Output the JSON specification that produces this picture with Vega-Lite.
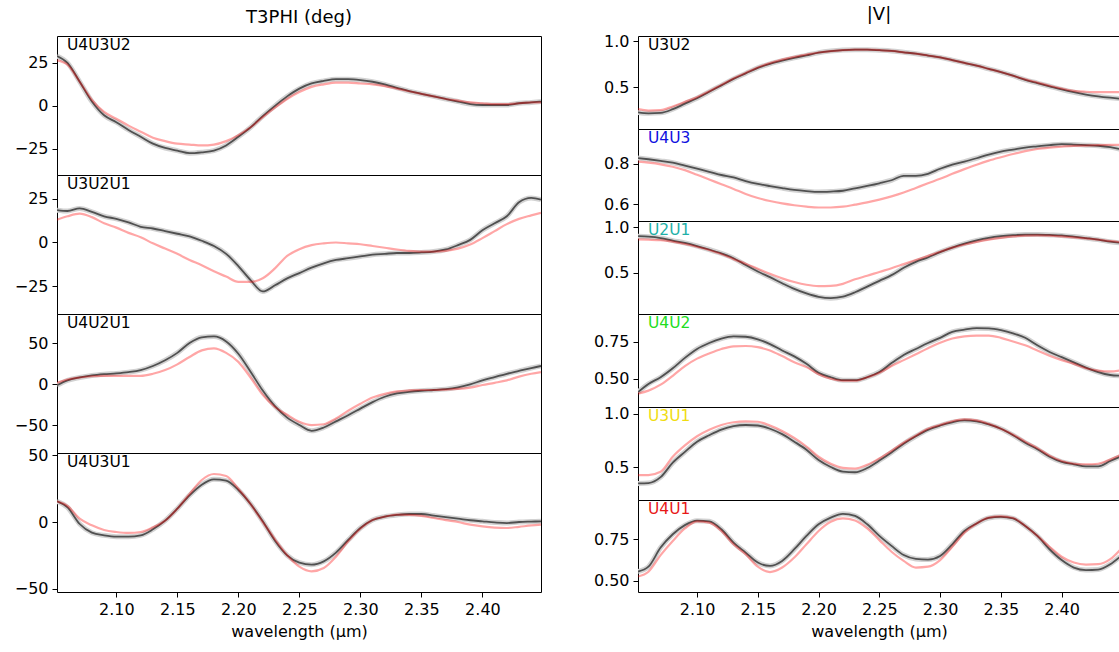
{
"$schema":"https://vega.github.io/schema/vega-lite/v6.json",
"background":"white",
"padding":{"left":13,"top":5,"right":0,"bottom":0},
"config":{
"font":"DejaVu Sans",
"view":{"stroke":"black","strokeWidth":1},
"concat":{"spacing":0},
"axis":{"domain":false,"grid":false,"tickColor":"black","tickSize":5,"tickWidth":1,"labelFont":"DejaVu Sans","labelFontSize":16,"labelColor":"black","labelPadding":4,"titleFont":"DejaVu Sans","titleFontSize":16,"titleFontWeight":"normal","titleColor":"black","titlePadding":6},
"title":{"font":"DejaVu Sans","fontSize":18,"fontWeight":"normal","color":"black"}
},
"datasets":{"obs":[
{"p":"U4U3U2","w":2.0514,"d":29,"m":26.5},{"p":"U4U3U2","w":2.06,"d":25,"m":24},{"p":"U4U3U2","w":2.07,"d":14,"m":14},{"p":"U4U3U2","w":2.08,"d":2.5,"m":3.5},{"p":"U4U3U2","w":2.09,"d":-5.5,"m":-3.5},{"p":"U4U3U2","w":2.1,"d":-9.5,"m":-7.5},{"p":"U4U3U2","w":2.11,"d":-14,"m":-11.5},{"p":"U4U3U2","w":2.12,"d":-18,"m":-15},{"p":"U4U3U2","w":2.13,"d":-22,"m":-18.5},{"p":"U4U3U2","w":2.14,"d":-24.5,"m":-20.5},{"p":"U4U3U2","w":2.15,"d":-26,"m":-22},{"p":"U4U3U2","w":2.16,"d":-27.5,"m":-22.5},{"p":"U4U3U2","w":2.17,"d":-27,"m":-23},{"p":"U4U3U2","w":2.18,"d":-26,"m":-22.5},{"p":"U4U3U2","w":2.19,"d":-23,"m":-20.5},{"p":"U4U3U2","w":2.2,"d":-18,"m":-17},{"p":"U4U3U2","w":2.21,"d":-12.5,"m":-12.5},{"p":"U4U3U2","w":2.22,"d":-6,"m":-6.5},{"p":"U4U3U2","w":2.23,"d":0,"m":-1},{"p":"U4U3U2","w":2.24,"d":5.5,"m":4},{"p":"U4U3U2","w":2.25,"d":10,"m":8},{"p":"U4U3U2","w":2.26,"d":13,"m":11},{"p":"U4U3U2","w":2.27,"d":14.5,"m":12.5},{"p":"U4U3U2","w":2.28,"d":15.5,"m":13.5},{"p":"U4U3U2","w":2.29,"d":15.5,"m":13.5},{"p":"U4U3U2","w":2.3,"d":15,"m":13},{"p":"U4U3U2","w":2.31,"d":14,"m":12.5},{"p":"U4U3U2","w":2.32,"d":12.5,"m":11.5},{"p":"U4U3U2","w":2.33,"d":10.5,"m":10},{"p":"U4U3U2","w":2.34,"d":8.5,"m":8.5},{"p":"U4U3U2","w":2.35,"d":7,"m":7},{"p":"U4U3U2","w":2.36,"d":5.5,"m":5.5},{"p":"U4U3U2","w":2.37,"d":4,"m":4},{"p":"U4U3U2","w":2.38,"d":2.5,"m":3},{"p":"U4U3U2","w":2.39,"d":1,"m":2},{"p":"U4U3U2","w":2.4,"d":0.5,"m":1.5},{"p":"U4U3U2","w":2.41,"d":0.5,"m":1},{"p":"U4U3U2","w":2.42,"d":0.5,"m":1},{"p":"U4U3U2","w":2.43,"d":1.5,"m":1.5},{"p":"U4U3U2","w":2.44,"d":2,"m":2},{"p":"U4U3U2","w":2.448,"d":2.5,"m":2},
{"p":"U3U2U1","w":2.0514,"d":18.5,"m":13},{"p":"U3U2U1","w":2.06,"d":18,"m":15},{"p":"U3U2U1","w":2.07,"d":19.5,"m":16.5},{"p":"U3U2U1","w":2.08,"d":17.5,"m":14.5},{"p":"U3U2U1","w":2.09,"d":15,"m":11},{"p":"U3U2U1","w":2.1,"d":13.5,"m":8.5},{"p":"U3U2U1","w":2.11,"d":11.5,"m":5.5},{"p":"U3U2U1","w":2.12,"d":9,"m":3},{"p":"U3U2U1","w":2.13,"d":8,"m":-0.5},{"p":"U3U2U1","w":2.14,"d":6.5,"m":-3.5},{"p":"U3U2U1","w":2.15,"d":5,"m":-6.5},{"p":"U3U2U1","w":2.16,"d":3.5,"m":-10},{"p":"U3U2U1","w":2.17,"d":1,"m":-13},{"p":"U3U2U1","w":2.18,"d":-2,"m":-16.5},{"p":"U3U2U1","w":2.19,"d":-6.5,"m":-19.5},{"p":"U3U2U1","w":2.2,"d":-13.5,"m":-22.5},{"p":"U3U2U1","w":2.21,"d":-21.5,"m":-22.5},{"p":"U3U2U1","w":2.22,"d":-28,"m":-20.5},{"p":"U3U2U1","w":2.23,"d":-24.5,"m":-14.8},{"p":"U3U2U1","w":2.24,"d":-20.5,"m":-7.7},{"p":"U3U2U1","w":2.25,"d":-17.5,"m":-3.8},{"p":"U3U2U1","w":2.26,"d":-14.4,"m":-1.5},{"p":"U3U2U1","w":2.27,"d":-11.9,"m":-0.5},{"p":"U3U2U1","w":2.28,"d":-10,"m":0},{"p":"U3U2U1","w":2.29,"d":-9,"m":-0.5},{"p":"U3U2U1","w":2.3,"d":-8,"m":-1},{"p":"U3U2U1","w":2.31,"d":-7,"m":-2},{"p":"U3U2U1","w":2.32,"d":-6.5,"m":-3},{"p":"U3U2U1","w":2.33,"d":-6,"m":-4},{"p":"U3U2U1","w":2.34,"d":-6,"m":-4.8},{"p":"U3U2U1","w":2.35,"d":-5.7,"m":-5.2},{"p":"U3U2U1","w":2.36,"d":-5.2,"m":-5.2},{"p":"U3U2U1","w":2.37,"d":-4,"m":-4.8},{"p":"U3U2U1","w":2.38,"d":-1.5,"m":-3.5},{"p":"U3U2U1","w":2.39,"d":1.5,"m":-1.2},{"p":"U3U2U1","w":2.4,"d":7,"m":2.5},{"p":"U3U2U1","w":2.41,"d":11,"m":6.5},{"p":"U3U2U1","w":2.42,"d":15,"m":10.5},{"p":"U3U2U1","w":2.43,"d":23,"m":13.5},{"p":"U3U2U1","w":2.44,"d":25.5,"m":15.5},{"p":"U3U2U1","w":2.448,"d":24.5,"m":17},
{"p":"U4U2U1","w":2.0514,"d":-1.5,"m":1.5},{"p":"U4U2U1","w":2.06,"d":4.5,"m":5.5},{"p":"U4U2U1","w":2.07,"d":8,"m":8},{"p":"U4U2U1","w":2.08,"d":10.5,"m":9.5},{"p":"U4U2U1","w":2.09,"d":12,"m":10},{"p":"U4U2U1","w":2.1,"d":13,"m":10},{"p":"U4U2U1","w":2.11,"d":14.5,"m":10},{"p":"U4U2U1","w":2.12,"d":17,"m":10},{"p":"U4U2U1","w":2.13,"d":22,"m":12.5},{"p":"U4U2U1","w":2.14,"d":29,"m":17},{"p":"U4U2U1","w":2.15,"d":38,"m":24},{"p":"U4U2U1","w":2.16,"d":50,"m":33},{"p":"U4U2U1","w":2.17,"d":57,"m":41},{"p":"U4U2U1","w":2.18,"d":58,"m":43.5},{"p":"U4U2U1","w":2.19,"d":52,"m":38},{"p":"U4U2U1","w":2.2,"d":37,"m":27},{"p":"U4U2U1","w":2.21,"d":15,"m":8},{"p":"U4U2U1","w":2.22,"d":-8,"m":-13},{"p":"U4U2U1","w":2.23,"d":-27,"m":-28},{"p":"U4U2U1","w":2.24,"d":-41,"m":-37.5},{"p":"U4U2U1","w":2.25,"d":-50,"m":-46},{"p":"U4U2U1","w":2.26,"d":-57,"m":-50},{"p":"U4U2U1","w":2.27,"d":-53,"m":-49},{"p":"U4U2U1","w":2.28,"d":-45.5,"m":-42},{"p":"U4U2U1","w":2.29,"d":-38,"m":-32.5},{"p":"U4U2U1","w":2.3,"d":-30,"m":-24},{"p":"U4U2U1","w":2.31,"d":-22,"m":-16.5},{"p":"U4U2U1","w":2.32,"d":-15.5,"m":-12},{"p":"U4U2U1","w":2.33,"d":-11.5,"m":-9},{"p":"U4U2U1","w":2.34,"d":-9.5,"m":-7.8},{"p":"U4U2U1","w":2.35,"d":-8.2,"m":-7.3},{"p":"U4U2U1","w":2.36,"d":-7.3,"m":-7.3},{"p":"U4U2U1","w":2.37,"d":-6.2,"m":-6.8},{"p":"U4U2U1","w":2.38,"d":-4,"m":-6},{"p":"U4U2U1","w":2.39,"d":-0.5,"m":-4.3},{"p":"U4U2U1","w":2.4,"d":4.5,"m":-1.2},{"p":"U4U2U1","w":2.41,"d":8.5,"m":1.5},{"p":"U4U2U1","w":2.42,"d":12.5,"m":4.5},{"p":"U4U2U1","w":2.43,"d":16,"m":9},{"p":"U4U2U1","w":2.44,"d":19.5,"m":12.5},{"p":"U4U2U1","w":2.448,"d":22,"m":14.5},
{"p":"U4U3U1","w":2.0514,"d":15.5,"m":15.5},{"p":"U4U3U1","w":2.06,"d":11,"m":12},{"p":"U4U3U1","w":2.07,"d":-1.5,"m":2.5},{"p":"U4U3U1","w":2.08,"d":-8,"m":-2.5},{"p":"U4U3U1","w":2.09,"d":-10,"m":-6},{"p":"U4U3U1","w":2.1,"d":-11,"m":-7.5},{"p":"U4U3U1","w":2.11,"d":-11,"m":-8.2},{"p":"U4U3U1","w":2.12,"d":-10,"m":-7.5},{"p":"U4U3U1","w":2.13,"d":-5.5,"m":-4},{"p":"U4U3U1","w":2.14,"d":1,"m":1},{"p":"U4U3U1","w":2.15,"d":10,"m":10},{"p":"U4U3U1","w":2.16,"d":20,"m":21},{"p":"U4U3U1","w":2.17,"d":28,"m":31.5},{"p":"U4U3U1","w":2.18,"d":32,"m":36},{"p":"U4U3U1","w":2.19,"d":31,"m":34.5},{"p":"U4U3U1","w":2.2,"d":24,"m":25},{"p":"U4U3U1","w":2.21,"d":13.5,"m":13.5},{"p":"U4U3U1","w":2.22,"d":0.5,"m":0},{"p":"U4U3U1","w":2.23,"d":-14,"m":-13},{"p":"U4U3U1","w":2.24,"d":-25,"m":-25},{"p":"U4U3U1","w":2.25,"d":-30.5,"m":-33.5},{"p":"U4U3U1","w":2.26,"d":-32,"m":-37},{"p":"U4U3U1","w":2.27,"d":-29.5,"m":-34.5},{"p":"U4U3U1","w":2.28,"d":-23,"m":-26},{"p":"U4U3U1","w":2.29,"d":-13.5,"m":-14.5},{"p":"U4U3U1","w":2.3,"d":-4.5,"m":-5},{"p":"U4U3U1","w":2.31,"d":1.5,"m":1.5},{"p":"U4U3U1","w":2.32,"d":4,"m":4},{"p":"U4U3U1","w":2.33,"d":5.3,"m":5.5},{"p":"U4U3U1","w":2.34,"d":6,"m":5.4},{"p":"U4U3U1","w":2.35,"d":6,"m":4.6},{"p":"U4U3U1","w":2.36,"d":4.8,"m":3},{"p":"U4U3U1","w":2.37,"d":3.6,"m":1.4},{"p":"U4U3U1","w":2.38,"d":2.5,"m":0},{"p":"U4U3U1","w":2.39,"d":1.3,"m":-2},{"p":"U4U3U1","w":2.4,"d":0.5,"m":-3.3},{"p":"U4U3U1","w":2.41,"d":-0.3,"m":-4.2},{"p":"U4U3U1","w":2.42,"d":-0.8,"m":-4.5},{"p":"U4U3U1","w":2.43,"d":0,"m":-3.6},{"p":"U4U3U1","w":2.44,"d":0.3,"m":-2.6},{"p":"U4U3U1","w":2.448,"d":0.5,"m":-2},
{"p":"U3U2","w":2.0514,"d":0.225,"m":0.26},{"p":"U3U2","w":2.06,"d":0.215,"m":0.245},{"p":"U3U2","w":2.07,"d":0.22,"m":0.25},{"p":"U3U2","w":2.08,"d":0.26,"m":0.29},{"p":"U3U2","w":2.09,"d":0.32,"m":0.34},{"p":"U3U2","w":2.1,"d":0.38,"m":0.39},{"p":"U3U2","w":2.11,"d":0.45,"m":0.455},{"p":"U3U2","w":2.12,"d":0.52,"m":0.525},{"p":"U3U2","w":2.13,"d":0.59,"m":0.595},{"p":"U3U2","w":2.14,"d":0.65,"m":0.655},{"p":"U3U2","w":2.15,"d":0.71,"m":0.715},{"p":"U3U2","w":2.16,"d":0.755,"m":0.762},{"p":"U3U2","w":2.17,"d":0.79,"m":0.8},{"p":"U3U2","w":2.18,"d":0.82,"m":0.83},{"p":"U3U2","w":2.19,"d":0.847,"m":0.855},{"p":"U3U2","w":2.2,"d":0.876,"m":0.878},{"p":"U3U2","w":2.21,"d":0.894,"m":0.894},{"p":"U3U2","w":2.22,"d":0.905,"m":0.905},{"p":"U3U2","w":2.23,"d":0.909,"m":0.91},{"p":"U3U2","w":2.24,"d":0.909,"m":0.91},{"p":"U3U2","w":2.25,"d":0.903,"m":0.905},{"p":"U3U2","w":2.26,"d":0.895,"m":0.895},{"p":"U3U2","w":2.27,"d":0.88,"m":0.88},{"p":"U3U2","w":2.28,"d":0.865,"m":0.865},{"p":"U3U2","w":2.29,"d":0.845,"m":0.845},{"p":"U3U2","w":2.3,"d":0.825,"m":0.825},{"p":"U3U2","w":2.31,"d":0.795,"m":0.795},{"p":"U3U2","w":2.32,"d":0.765,"m":0.765},{"p":"U3U2","w":2.33,"d":0.735,"m":0.735},{"p":"U3U2","w":2.34,"d":0.7,"m":0.7},{"p":"U3U2","w":2.35,"d":0.665,"m":0.665},{"p":"U3U2","w":2.36,"d":0.625,"m":0.625},{"p":"U3U2","w":2.37,"d":0.58,"m":0.585},{"p":"U3U2","w":2.38,"d":0.545,"m":0.55},{"p":"U3U2","w":2.39,"d":0.51,"m":0.515},{"p":"U3U2","w":2.4,"d":0.475,"m":0.485},{"p":"U3U2","w":2.41,"d":0.445,"m":0.46},{"p":"U3U2","w":2.42,"d":0.42,"m":0.45},{"p":"U3U2","w":2.43,"d":0.4,"m":0.445},{"p":"U3U2","w":2.44,"d":0.385,"m":0.445},{"p":"U3U2","w":2.448,"d":0.375,"m":0.445},
{"p":"U4U3","w":2.0514,"d":0.828,"m":0.81},{"p":"U4U3","w":2.06,"d":0.822,"m":0.805},{"p":"U4U3","w":2.07,"d":0.814,"m":0.797},{"p":"U4U3","w":2.08,"d":0.805,"m":0.785},{"p":"U4U3","w":2.09,"d":0.79,"m":0.768},{"p":"U4U3","w":2.1,"d":0.775,"m":0.745},{"p":"U4U3","w":2.11,"d":0.76,"m":0.722},{"p":"U4U3","w":2.12,"d":0.744,"m":0.698},{"p":"U4U3","w":2.13,"d":0.732,"m":0.675},{"p":"U4U3","w":2.14,"d":0.714,"m":0.65},{"p":"U4U3","w":2.15,"d":0.7,"m":0.63},{"p":"U4U3","w":2.16,"d":0.689,"m":0.615},{"p":"U4U3","w":2.17,"d":0.679,"m":0.603},{"p":"U4U3","w":2.18,"d":0.67,"m":0.594},{"p":"U4U3","w":2.19,"d":0.664,"m":0.587},{"p":"U4U3","w":2.2,"d":0.66,"m":0.583},{"p":"U4U3","w":2.21,"d":0.662,"m":0.583},{"p":"U4U3","w":2.22,"d":0.666,"m":0.587},{"p":"U4U3","w":2.23,"d":0.678,"m":0.597},{"p":"U4U3","w":2.24,"d":0.69,"m":0.608},{"p":"U4U3","w":2.25,"d":0.703,"m":0.622},{"p":"U4U3","w":2.26,"d":0.718,"m":0.638},{"p":"U4U3","w":2.27,"d":0.74,"m":0.657},{"p":"U4U3","w":2.28,"d":0.74,"m":0.68},{"p":"U4U3","w":2.29,"d":0.75,"m":0.703},{"p":"U4U3","w":2.3,"d":0.775,"m":0.725},{"p":"U4U3","w":2.31,"d":0.795,"m":0.75},{"p":"U4U3","w":2.32,"d":0.81,"m":0.773},{"p":"U4U3","w":2.33,"d":0.827,"m":0.795},{"p":"U4U3","w":2.34,"d":0.845,"m":0.815},{"p":"U4U3","w":2.35,"d":0.86,"m":0.832},{"p":"U4U3","w":2.36,"d":0.87,"m":0.848},{"p":"U4U3","w":2.37,"d":0.88,"m":0.862},{"p":"U4U3","w":2.38,"d":0.886,"m":0.873},{"p":"U4U3","w":2.39,"d":0.892,"m":0.88},{"p":"U4U3","w":2.4,"d":0.897,"m":0.885},{"p":"U4U3","w":2.41,"d":0.895,"m":0.888},{"p":"U4U3","w":2.42,"d":0.892,"m":0.89},{"p":"U4U3","w":2.43,"d":0.889,"m":0.892},{"p":"U4U3","w":2.44,"d":0.882,"m":0.893},{"p":"U4U3","w":2.448,"d":0.872,"m":0.893},
{"p":"U2U1","w":2.0514,"d":0.9,"m":0.865},{"p":"U2U1","w":2.06,"d":0.895,"m":0.862},{"p":"U2U1","w":2.07,"d":0.88,"m":0.857},{"p":"U2U1","w":2.08,"d":0.852,"m":0.84},{"p":"U2U1","w":2.09,"d":0.826,"m":0.815},{"p":"U2U1","w":2.1,"d":0.793,"m":0.785},{"p":"U2U1","w":2.11,"d":0.755,"m":0.75},{"p":"U2U1","w":2.12,"d":0.712,"m":0.705},{"p":"U2U1","w":2.13,"d":0.66,"m":0.65},{"p":"U2U1","w":2.14,"d":0.585,"m":0.6},{"p":"U2U1","w":2.15,"d":0.515,"m":0.545},{"p":"U2U1","w":2.16,"d":0.453,"m":0.49},{"p":"U2U1","w":2.17,"d":0.387,"m":0.44},{"p":"U2U1","w":2.18,"d":0.325,"m":0.4},{"p":"U2U1","w":2.19,"d":0.275,"m":0.37},{"p":"U2U1","w":2.2,"d":0.238,"m":0.356},{"p":"U2U1","w":2.21,"d":0.224,"m":0.358},{"p":"U2U1","w":2.22,"d":0.24,"m":0.38},{"p":"U2U1","w":2.23,"d":0.288,"m":0.43},{"p":"U2U1","w":2.24,"d":0.35,"m":0.468},{"p":"U2U1","w":2.25,"d":0.413,"m":0.51},{"p":"U2U1","w":2.26,"d":0.475,"m":0.55},{"p":"U2U1","w":2.27,"d":0.555,"m":0.595},{"p":"U2U1","w":2.28,"d":0.62,"m":0.64},{"p":"U2U1","w":2.29,"d":0.668,"m":0.685},{"p":"U2U1","w":2.3,"d":0.726,"m":0.73},{"p":"U2U1","w":2.31,"d":0.775,"m":0.775},{"p":"U2U1","w":2.32,"d":0.818,"m":0.81},{"p":"U2U1","w":2.33,"d":0.854,"m":0.838},{"p":"U2U1","w":2.34,"d":0.882,"m":0.862},{"p":"U2U1","w":2.35,"d":0.9,"m":0.882},{"p":"U2U1","w":2.36,"d":0.911,"m":0.898},{"p":"U2U1","w":2.37,"d":0.918,"m":0.906},{"p":"U2U1","w":2.38,"d":0.918,"m":0.909},{"p":"U2U1","w":2.39,"d":0.914,"m":0.906},{"p":"U2U1","w":2.4,"d":0.909,"m":0.898},{"p":"U2U1","w":2.41,"d":0.896,"m":0.888},{"p":"U2U1","w":2.42,"d":0.88,"m":0.876},{"p":"U2U1","w":2.43,"d":0.863,"m":0.862},{"p":"U2U1","w":2.44,"d":0.84,"m":0.846},{"p":"U2U1","w":2.448,"d":0.828,"m":0.836},
{"p":"U4U2","w":2.0514,"d":0.41,"m":0.4},{"p":"U4U2","w":2.06,"d":0.465,"m":0.42},{"p":"U4U2","w":2.07,"d":0.51,"m":0.46},{"p":"U4U2","w":2.08,"d":0.57,"m":0.52},{"p":"U4U2","w":2.09,"d":0.64,"m":0.585},{"p":"U4U2","w":2.1,"d":0.7,"m":0.635},{"p":"U4U2","w":2.11,"d":0.74,"m":0.67},{"p":"U4U2","w":2.12,"d":0.77,"m":0.7},{"p":"U4U2","w":2.13,"d":0.785,"m":0.718},{"p":"U4U2","w":2.14,"d":0.782,"m":0.72},{"p":"U4U2","w":2.15,"d":0.765,"m":0.712},{"p":"U4U2","w":2.16,"d":0.733,"m":0.69},{"p":"U4U2","w":2.17,"d":0.69,"m":0.652},{"p":"U4U2","w":2.18,"d":0.65,"m":0.61},{"p":"U4U2","w":2.19,"d":0.6,"m":0.578},{"p":"U4U2","w":2.2,"d":0.54,"m":0.53},{"p":"U4U2","w":2.21,"d":0.51,"m":0.5},{"p":"U4U2","w":2.22,"d":0.49,"m":0.487},{"p":"U4U2","w":2.23,"d":0.49,"m":0.487},{"p":"U4U2","w":2.24,"d":0.51,"m":0.51},{"p":"U4U2","w":2.25,"d":0.545,"m":0.54},{"p":"U4U2","w":2.26,"d":0.605,"m":0.585},{"p":"U4U2","w":2.27,"d":0.66,"m":0.625},{"p":"U4U2","w":2.28,"d":0.7,"m":0.665},{"p":"U4U2","w":2.29,"d":0.74,"m":0.705},{"p":"U4U2","w":2.3,"d":0.775,"m":0.742},{"p":"U4U2","w":2.31,"d":0.815,"m":0.77},{"p":"U4U2","w":2.32,"d":0.83,"m":0.785},{"p":"U4U2","w":2.33,"d":0.84,"m":0.79},{"p":"U4U2","w":2.34,"d":0.838,"m":0.79},{"p":"U4U2","w":2.35,"d":0.826,"m":0.775},{"p":"U4U2","w":2.36,"d":0.805,"m":0.75},{"p":"U4U2","w":2.37,"d":0.775,"m":0.725},{"p":"U4U2","w":2.38,"d":0.725,"m":0.69},{"p":"U4U2","w":2.39,"d":0.68,"m":0.655},{"p":"U4U2","w":2.4,"d":0.645,"m":0.625},{"p":"U4U2","w":2.41,"d":0.61,"m":0.6},{"p":"U4U2","w":2.42,"d":0.575,"m":0.57},{"p":"U4U2","w":2.43,"d":0.545,"m":0.555},{"p":"U4U2","w":2.44,"d":0.525,"m":0.549},{"p":"U4U2","w":2.448,"d":0.52,"m":0.556},
{"p":"U3U1","w":2.0514,"d":0.352,"m":0.43},{"p":"U3U1","w":2.06,"d":0.355,"m":0.43},{"p":"U3U1","w":2.07,"d":0.41,"m":0.46},{"p":"U3U1","w":2.08,"d":0.545,"m":0.6},{"p":"U3U1","w":2.09,"d":0.645,"m":0.705},{"p":"U3U1","w":2.1,"d":0.74,"m":0.79},{"p":"U3U1","w":2.11,"d":0.8,"m":0.85},{"p":"U3U1","w":2.12,"d":0.852,"m":0.895},{"p":"U3U1","w":2.13,"d":0.884,"m":0.92},{"p":"U3U1","w":2.14,"d":0.895,"m":0.928},{"p":"U3U1","w":2.15,"d":0.89,"m":0.925},{"p":"U3U1","w":2.16,"d":0.86,"m":0.89},{"p":"U3U1","w":2.17,"d":0.81,"m":0.84},{"p":"U3U1","w":2.18,"d":0.74,"m":0.775},{"p":"U3U1","w":2.19,"d":0.665,"m":0.695},{"p":"U3U1","w":2.2,"d":0.57,"m":0.6},{"p":"U3U1","w":2.21,"d":0.505,"m":0.535},{"p":"U3U1","w":2.22,"d":0.462,"m":0.497},{"p":"U3U1","w":2.23,"d":0.456,"m":0.49},{"p":"U3U1","w":2.24,"d":0.495,"m":0.525},{"p":"U3U1","w":2.25,"d":0.565,"m":0.585},{"p":"U3U1","w":2.26,"d":0.64,"m":0.655},{"p":"U3U1","w":2.27,"d":0.72,"m":0.73},{"p":"U3U1","w":2.28,"d":0.79,"m":0.795},{"p":"U3U1","w":2.29,"d":0.85,"m":0.86},{"p":"U3U1","w":2.3,"d":0.89,"m":0.895},{"p":"U3U1","w":2.31,"d":0.92,"m":0.93},{"p":"U3U1","w":2.32,"d":0.937,"m":0.947},{"p":"U3U1","w":2.33,"d":0.928,"m":0.938},{"p":"U3U1","w":2.34,"d":0.9,"m":0.905},{"p":"U3U1","w":2.35,"d":0.86,"m":0.86},{"p":"U3U1","w":2.36,"d":0.8,"m":0.805},{"p":"U3U1","w":2.37,"d":0.73,"m":0.74},{"p":"U3U1","w":2.38,"d":0.67,"m":0.68},{"p":"U3U1","w":2.39,"d":0.6,"m":0.61},{"p":"U3U1","w":2.4,"d":0.552,"m":0.56},{"p":"U3U1","w":2.41,"d":0.53,"m":0.535},{"p":"U3U1","w":2.42,"d":0.51,"m":0.53},{"p":"U3U1","w":2.43,"d":0.51,"m":0.535},{"p":"U3U1","w":2.44,"d":0.56,"m":0.575},{"p":"U3U1","w":2.448,"d":0.6,"m":0.614},
{"p":"U4U1","w":2.0514,"d":0.556,"m":0.526},{"p":"U4U1","w":2.06,"d":0.585,"m":0.555},{"p":"U4U1","w":2.07,"d":0.7,"m":0.655},{"p":"U4U1","w":2.08,"d":0.78,"m":0.74},{"p":"U4U1","w":2.09,"d":0.835,"m":0.815},{"p":"U4U1","w":2.1,"d":0.862,"m":0.857},{"p":"U4U1","w":2.11,"d":0.858,"m":0.85},{"p":"U4U1","w":2.12,"d":0.81,"m":0.8},{"p":"U4U1","w":2.13,"d":0.73,"m":0.72},{"p":"U4U1","w":2.14,"d":0.67,"m":0.66},{"p":"U4U1","w":2.15,"d":0.61,"m":0.585},{"p":"U4U1","w":2.16,"d":0.59,"m":0.553},{"p":"U4U1","w":2.17,"d":0.62,"m":0.58},{"p":"U4U1","w":2.18,"d":0.69,"m":0.64},{"p":"U4U1","w":2.19,"d":0.77,"m":0.72},{"p":"U4U1","w":2.2,"d":0.84,"m":0.8},{"p":"U4U1","w":2.21,"d":0.88,"m":0.855},{"p":"U4U1","w":2.22,"d":0.903,"m":0.875},{"p":"U4U1","w":2.23,"d":0.89,"m":0.863},{"p":"U4U1","w":2.24,"d":0.84,"m":0.815},{"p":"U4U1","w":2.25,"d":0.77,"m":0.745},{"p":"U4U1","w":2.26,"d":0.71,"m":0.675},{"p":"U4U1","w":2.27,"d":0.655,"m":0.62},{"p":"U4U1","w":2.28,"d":0.632,"m":0.58},{"p":"U4U1","w":2.29,"d":0.628,"m":0.585},{"p":"U4U1","w":2.3,"d":0.65,"m":0.625},{"p":"U4U1","w":2.31,"d":0.72,"m":0.705},{"p":"U4U1","w":2.32,"d":0.8,"m":0.79},{"p":"U4U1","w":2.33,"d":0.845,"m":0.845},{"p":"U4U1","w":2.34,"d":0.878,"m":0.88},{"p":"U4U1","w":2.35,"d":0.885,"m":0.888},{"p":"U4U1","w":2.36,"d":0.875,"m":0.878},{"p":"U4U1","w":2.37,"d":0.83,"m":0.83},{"p":"U4U1","w":2.38,"d":0.77,"m":0.77},{"p":"U4U1","w":2.39,"d":0.69,"m":0.705},{"p":"U4U1","w":2.4,"d":0.625,"m":0.645},{"p":"U4U1","w":2.41,"d":0.58,"m":0.61},{"p":"U4U1","w":2.42,"d":0.565,"m":0.598},{"p":"U4U1","w":2.43,"d":0.568,"m":0.6},{"p":"U4U1","w":2.44,"d":0.6,"m":0.63},{"p":"U4U1","w":2.448,"d":0.645,"m":0.685}
]},
"spacing":50,
"resolve":{"scale":{"x":"independent","y":"independent"}},
"hconcat":[
{"spacing":0,"bounds":"flush","resolve":{"scale":{"x":"independent","y":"independent"}},"vconcat":[
{"width":484,"height":139,"title":{"text":"T3PHI (deg)","frame":"group","anchor":"middle","offset":9},"layer":[
{"data":{"name":"obs"},"transform":[{"filter":"datum.p==='U4U3U2'"}],"mark":{"type":"line","color":"#d2d2d2","strokeWidth":5,"interpolate":"monotone","clip":true},"encoding":{"x":{"field":"w","type":"quantitative","scale":{"domain":[2.0514,2.448],"nice":false,"zero":false},"axis":null},"y":{"field":"d","type":"quantitative","scale":{"domain":[-40.2,40.6],"nice":false,"zero":false},"axis":{"values":[-25,0,25],"format":"d"},"title":null}}},
{"data":{"name":"obs"},"transform":[{"filter":"datum.p==='U4U3U2'"}],"mark":{"type":"line","color":"#505050","strokeWidth":1.8,"interpolate":"monotone","clip":true},"encoding":{"x":{"field":"w","type":"quantitative","scale":{"domain":[2.0514,2.448],"nice":false,"zero":false},"axis":null},"y":{"field":"d","type":"quantitative","scale":{"domain":[-40.2,40.6],"nice":false,"zero":false},"axis":{"values":[-25,0,25],"format":"d"},"title":null}}},
{"data":{"name":"obs"},"transform":[{"filter":"datum.p==='U4U3U2'"}],"mark":{"type":"line","color":"red","opacity":0.35,"strokeWidth":2.2,"interpolate":"monotone","clip":true},"encoding":{"x":{"field":"w","type":"quantitative","scale":{"domain":[2.0514,2.448],"nice":false,"zero":false},"axis":null},"y":{"field":"m","type":"quantitative","scale":{"domain":[-40.2,40.6],"nice":false,"zero":false},"axis":{"values":[-25,0,25],"format":"d"},"title":null}}},
{"data":{"values":[{"label":"U4U3U2"}]},"mark":{"type":"text","align":"left","baseline":"top","dx":10,"dy":2,"fontSize":15.5,"color":"black"},"encoding":{"x":{"datum":2.0514,"type":"quantitative","scale":{"domain":[2.0514,2.448],"nice":false,"zero":false},"axis":null},"y":{"datum":40.6,"type":"quantitative","scale":{"domain":[-40.2,40.6],"nice":false,"zero":false},"axis":{"values":[-25,0,25],"format":"d"},"title":null},"text":{"field":"label"}}}
]},
{"width":484,"height":139,"layer":[
{"data":{"name":"obs"},"transform":[{"filter":"datum.p==='U3U2U1'"}],"mark":{"type":"line","color":"#d2d2d2","strokeWidth":5,"interpolate":"monotone","clip":true},"encoding":{"x":{"field":"w","type":"quantitative","scale":{"domain":[2.0514,2.448],"nice":false,"zero":false},"axis":null},"y":{"field":"d","type":"quantitative","scale":{"domain":[-40.9,38.6],"nice":false,"zero":false},"axis":{"values":[-25,0,25],"format":"d"},"title":null}}},
{"data":{"name":"obs"},"transform":[{"filter":"datum.p==='U3U2U1'"}],"mark":{"type":"line","color":"#505050","strokeWidth":1.8,"interpolate":"monotone","clip":true},"encoding":{"x":{"field":"w","type":"quantitative","scale":{"domain":[2.0514,2.448],"nice":false,"zero":false},"axis":null},"y":{"field":"d","type":"quantitative","scale":{"domain":[-40.9,38.6],"nice":false,"zero":false},"axis":{"values":[-25,0,25],"format":"d"},"title":null}}},
{"data":{"name":"obs"},"transform":[{"filter":"datum.p==='U3U2U1'"}],"mark":{"type":"line","color":"red","opacity":0.35,"strokeWidth":2.2,"interpolate":"monotone","clip":true},"encoding":{"x":{"field":"w","type":"quantitative","scale":{"domain":[2.0514,2.448],"nice":false,"zero":false},"axis":null},"y":{"field":"m","type":"quantitative","scale":{"domain":[-40.9,38.6],"nice":false,"zero":false},"axis":{"values":[-25,0,25],"format":"d"},"title":null}}},
{"data":{"values":[{"label":"U3U2U1"}]},"mark":{"type":"text","align":"left","baseline":"top","dx":10,"dy":2,"fontSize":15.5,"color":"black"},"encoding":{"x":{"datum":2.0514,"type":"quantitative","scale":{"domain":[2.0514,2.448],"nice":false,"zero":false},"axis":null},"y":{"datum":38.6,"type":"quantitative","scale":{"domain":[-40.9,38.6],"nice":false,"zero":false},"axis":{"values":[-25,0,25],"format":"d"},"title":null},"text":{"field":"label"}}}
]},
{"width":484,"height":139,"layer":[
{"data":{"name":"obs"},"transform":[{"filter":"datum.p==='U4U2U1'"}],"mark":{"type":"line","color":"#d2d2d2","strokeWidth":5,"interpolate":"monotone","clip":true},"encoding":{"x":{"field":"w","type":"quantitative","scale":{"domain":[2.0514,2.448],"nice":false,"zero":false},"axis":null},"y":{"field":"d","type":"quantitative","scale":{"domain":[-84.1,85.4],"nice":false,"zero":false},"axis":{"values":[-50,0,50],"format":"d"},"title":null}}},
{"data":{"name":"obs"},"transform":[{"filter":"datum.p==='U4U2U1'"}],"mark":{"type":"line","color":"#505050","strokeWidth":1.8,"interpolate":"monotone","clip":true},"encoding":{"x":{"field":"w","type":"quantitative","scale":{"domain":[2.0514,2.448],"nice":false,"zero":false},"axis":null},"y":{"field":"d","type":"quantitative","scale":{"domain":[-84.1,85.4],"nice":false,"zero":false},"axis":{"values":[-50,0,50],"format":"d"},"title":null}}},
{"data":{"name":"obs"},"transform":[{"filter":"datum.p==='U4U2U1'"}],"mark":{"type":"line","color":"red","opacity":0.35,"strokeWidth":2.2,"interpolate":"monotone","clip":true},"encoding":{"x":{"field":"w","type":"quantitative","scale":{"domain":[2.0514,2.448],"nice":false,"zero":false},"axis":null},"y":{"field":"m","type":"quantitative","scale":{"domain":[-84.1,85.4],"nice":false,"zero":false},"axis":{"values":[-50,0,50],"format":"d"},"title":null}}},
{"data":{"values":[{"label":"U4U2U1"}]},"mark":{"type":"text","align":"left","baseline":"top","dx":10,"dy":2,"fontSize":15.5,"color":"black"},"encoding":{"x":{"datum":2.0514,"type":"quantitative","scale":{"domain":[2.0514,2.448],"nice":false,"zero":false},"axis":null},"y":{"datum":85.4,"type":"quantitative","scale":{"domain":[-84.1,85.4],"nice":false,"zero":false},"axis":{"values":[-50,0,50],"format":"d"},"title":null},"text":{"field":"label"}}}
]},
{"width":484,"height":139,"layer":[
{"data":{"name":"obs"},"transform":[{"filter":"datum.p==='U4U3U1'"}],"mark":{"type":"line","color":"#d2d2d2","strokeWidth":5,"interpolate":"monotone","clip":true},"encoding":{"x":{"field":"w","type":"quantitative","scale":{"domain":[2.0514,2.448],"nice":false,"zero":false},"axis":{"values":[2.1,2.15,2.2,2.25,2.3,2.35,2.4],"format":".2f"},"title":"wavelength (μm)"},"y":{"field":"d","type":"quantitative","scale":{"domain":[-52.5,51.75],"nice":false,"zero":false},"axis":{"values":[-50,0,50],"format":"d"},"title":null}}},
{"data":{"name":"obs"},"transform":[{"filter":"datum.p==='U4U3U1'"}],"mark":{"type":"line","color":"#505050","strokeWidth":1.8,"interpolate":"monotone","clip":true},"encoding":{"x":{"field":"w","type":"quantitative","scale":{"domain":[2.0514,2.448],"nice":false,"zero":false},"axis":{"values":[2.1,2.15,2.2,2.25,2.3,2.35,2.4],"format":".2f"},"title":"wavelength (μm)"},"y":{"field":"d","type":"quantitative","scale":{"domain":[-52.5,51.75],"nice":false,"zero":false},"axis":{"values":[-50,0,50],"format":"d"},"title":null}}},
{"data":{"name":"obs"},"transform":[{"filter":"datum.p==='U4U3U1'"}],"mark":{"type":"line","color":"red","opacity":0.35,"strokeWidth":2.2,"interpolate":"monotone","clip":true},"encoding":{"x":{"field":"w","type":"quantitative","scale":{"domain":[2.0514,2.448],"nice":false,"zero":false},"axis":{"values":[2.1,2.15,2.2,2.25,2.3,2.35,2.4],"format":".2f"},"title":"wavelength (μm)"},"y":{"field":"m","type":"quantitative","scale":{"domain":[-52.5,51.75],"nice":false,"zero":false},"axis":{"values":[-50,0,50],"format":"d"},"title":null}}},
{"data":{"values":[{"label":"U4U3U1"}]},"mark":{"type":"text","align":"left","baseline":"top","dx":10,"dy":2,"fontSize":15.5,"color":"black"},"encoding":{"x":{"datum":2.0514,"type":"quantitative","scale":{"domain":[2.0514,2.448],"nice":false,"zero":false},"axis":{"values":[2.1,2.15,2.2,2.25,2.3,2.35,2.4],"format":".2f"},"title":"wavelength (μm)"},"y":{"datum":51.75,"type":"quantitative","scale":{"domain":[-52.5,51.75],"nice":false,"zero":false},"axis":{"values":[-50,0,50],"format":"d"},"title":null},"text":{"field":"label"}}}
]}
]},
{"spacing":0,"bounds":"flush","resolve":{"scale":{"x":"independent","y":"independent"}},"vconcat":[
{"width":482,"height":93,"title":{"text":"|V|","frame":"group","anchor":"middle","offset":9},"layer":[
{"data":{"name":"obs"},"transform":[{"filter":"datum.p==='U3U2'"}],"mark":{"type":"line","color":"#d2d2d2","strokeWidth":5,"interpolate":"monotone","clip":true},"encoding":{"x":{"field":"w","type":"quantitative","scale":{"domain":[2.0514,2.448],"nice":false,"zero":false},"axis":null},"y":{"field":"d","type":"quantitative","scale":{"domain":[0.044,1.058],"nice":false,"zero":false},"axis":{"values":[0.5,1.0],"format":".1f"},"title":null}}},
{"data":{"name":"obs"},"transform":[{"filter":"datum.p==='U3U2'"}],"mark":{"type":"line","color":"#505050","strokeWidth":1.8,"interpolate":"monotone","clip":true},"encoding":{"x":{"field":"w","type":"quantitative","scale":{"domain":[2.0514,2.448],"nice":false,"zero":false},"axis":null},"y":{"field":"d","type":"quantitative","scale":{"domain":[0.044,1.058],"nice":false,"zero":false},"axis":{"values":[0.5,1.0],"format":".1f"},"title":null}}},
{"data":{"name":"obs"},"transform":[{"filter":"datum.p==='U3U2'"}],"mark":{"type":"line","color":"red","opacity":0.35,"strokeWidth":2.2,"interpolate":"monotone","clip":true},"encoding":{"x":{"field":"w","type":"quantitative","scale":{"domain":[2.0514,2.448],"nice":false,"zero":false},"axis":null},"y":{"field":"m","type":"quantitative","scale":{"domain":[0.044,1.058],"nice":false,"zero":false},"axis":{"values":[0.5,1.0],"format":".1f"},"title":null}}},
{"data":{"values":[{"label":"U3U2"}]},"mark":{"type":"text","align":"left","baseline":"top","dx":10,"dy":2,"fontSize":15.5,"color":"black"},"encoding":{"x":{"datum":2.0514,"type":"quantitative","scale":{"domain":[2.0514,2.448],"nice":false,"zero":false},"axis":null},"y":{"datum":1.058,"type":"quantitative","scale":{"domain":[0.044,1.058],"nice":false,"zero":false},"axis":{"values":[0.5,1.0],"format":".1f"},"title":null},"text":{"field":"label"}}}
]},
{"width":482,"height":92,"layer":[
{"data":{"name":"obs"},"transform":[{"filter":"datum.p==='U4U3'"}],"mark":{"type":"line","color":"#d2d2d2","strokeWidth":5,"interpolate":"monotone","clip":true},"encoding":{"x":{"field":"w","type":"quantitative","scale":{"domain":[2.0514,2.448],"nice":false,"zero":false},"axis":null},"y":{"field":"d","type":"quantitative","scale":{"domain":[0.516,0.972],"nice":false,"zero":false},"axis":{"values":[0.6,0.8],"format":".1f"},"title":null}}},
{"data":{"name":"obs"},"transform":[{"filter":"datum.p==='U4U3'"}],"mark":{"type":"line","color":"#505050","strokeWidth":1.8,"interpolate":"monotone","clip":true},"encoding":{"x":{"field":"w","type":"quantitative","scale":{"domain":[2.0514,2.448],"nice":false,"zero":false},"axis":null},"y":{"field":"d","type":"quantitative","scale":{"domain":[0.516,0.972],"nice":false,"zero":false},"axis":{"values":[0.6,0.8],"format":".1f"},"title":null}}},
{"data":{"name":"obs"},"transform":[{"filter":"datum.p==='U4U3'"}],"mark":{"type":"line","color":"red","opacity":0.35,"strokeWidth":2.2,"interpolate":"monotone","clip":true},"encoding":{"x":{"field":"w","type":"quantitative","scale":{"domain":[2.0514,2.448],"nice":false,"zero":false},"axis":null},"y":{"field":"m","type":"quantitative","scale":{"domain":[0.516,0.972],"nice":false,"zero":false},"axis":{"values":[0.6,0.8],"format":".1f"},"title":null}}},
{"data":{"values":[{"label":"U4U3"}]},"mark":{"type":"text","align":"left","baseline":"top","dx":10,"dy":2,"fontSize":15.5,"color":"#1010e0"},"encoding":{"x":{"datum":2.0514,"type":"quantitative","scale":{"domain":[2.0514,2.448],"nice":false,"zero":false},"axis":null},"y":{"datum":0.972,"type":"quantitative","scale":{"domain":[0.516,0.972],"nice":false,"zero":false},"axis":{"values":[0.6,0.8],"format":".1f"},"title":null},"text":{"field":"label"}}}
]},
{"width":482,"height":93,"layer":[
{"data":{"name":"obs"},"transform":[{"filter":"datum.p==='U2U1'"}],"mark":{"type":"line","color":"#d2d2d2","strokeWidth":5,"interpolate":"monotone","clip":true},"encoding":{"x":{"field":"w","type":"quantitative","scale":{"domain":[2.0514,2.448],"nice":false,"zero":false},"axis":null},"y":{"field":"d","type":"quantitative","scale":{"domain":[0.051,1.066],"nice":false,"zero":false},"axis":{"values":[0.5,1.0],"format":".1f"},"title":null}}},
{"data":{"name":"obs"},"transform":[{"filter":"datum.p==='U2U1'"}],"mark":{"type":"line","color":"#505050","strokeWidth":1.8,"interpolate":"monotone","clip":true},"encoding":{"x":{"field":"w","type":"quantitative","scale":{"domain":[2.0514,2.448],"nice":false,"zero":false},"axis":null},"y":{"field":"d","type":"quantitative","scale":{"domain":[0.051,1.066],"nice":false,"zero":false},"axis":{"values":[0.5,1.0],"format":".1f"},"title":null}}},
{"data":{"name":"obs"},"transform":[{"filter":"datum.p==='U2U1'"}],"mark":{"type":"line","color":"red","opacity":0.35,"strokeWidth":2.2,"interpolate":"monotone","clip":true},"encoding":{"x":{"field":"w","type":"quantitative","scale":{"domain":[2.0514,2.448],"nice":false,"zero":false},"axis":null},"y":{"field":"m","type":"quantitative","scale":{"domain":[0.051,1.066],"nice":false,"zero":false},"axis":{"values":[0.5,1.0],"format":".1f"},"title":null}}},
{"data":{"values":[{"label":"U2U1"}]},"mark":{"type":"text","align":"left","baseline":"top","dx":10,"dy":2,"fontSize":15.5,"color":"#1fb0a8"},"encoding":{"x":{"datum":2.0514,"type":"quantitative","scale":{"domain":[2.0514,2.448],"nice":false,"zero":false},"axis":null},"y":{"datum":1.066,"type":"quantitative","scale":{"domain":[0.051,1.066],"nice":false,"zero":false},"axis":{"values":[0.5,1.0],"format":".1f"},"title":null},"text":{"field":"label"}}}
]},
{"width":482,"height":93,"layer":[
{"data":{"name":"obs"},"transform":[{"filter":"datum.p==='U4U2'"}],"mark":{"type":"line","color":"#d2d2d2","strokeWidth":5,"interpolate":"monotone","clip":true},"encoding":{"x":{"field":"w","type":"quantitative","scale":{"domain":[2.0514,2.448],"nice":false,"zero":false},"axis":null},"y":{"field":"d","type":"quantitative","scale":{"domain":[0.31,0.935],"nice":false,"zero":false},"axis":{"values":[0.5,0.75],"format":".2f"},"title":null}}},
{"data":{"name":"obs"},"transform":[{"filter":"datum.p==='U4U2'"}],"mark":{"type":"line","color":"#505050","strokeWidth":1.8,"interpolate":"monotone","clip":true},"encoding":{"x":{"field":"w","type":"quantitative","scale":{"domain":[2.0514,2.448],"nice":false,"zero":false},"axis":null},"y":{"field":"d","type":"quantitative","scale":{"domain":[0.31,0.935],"nice":false,"zero":false},"axis":{"values":[0.5,0.75],"format":".2f"},"title":null}}},
{"data":{"name":"obs"},"transform":[{"filter":"datum.p==='U4U2'"}],"mark":{"type":"line","color":"red","opacity":0.35,"strokeWidth":2.2,"interpolate":"monotone","clip":true},"encoding":{"x":{"field":"w","type":"quantitative","scale":{"domain":[2.0514,2.448],"nice":false,"zero":false},"axis":null},"y":{"field":"m","type":"quantitative","scale":{"domain":[0.31,0.935],"nice":false,"zero":false},"axis":{"values":[0.5,0.75],"format":".2f"},"title":null}}},
{"data":{"values":[{"label":"U4U2"}]},"mark":{"type":"text","align":"left","baseline":"top","dx":10,"dy":2,"fontSize":15.5,"color":"#22dd22"},"encoding":{"x":{"datum":2.0514,"type":"quantitative","scale":{"domain":[2.0514,2.448],"nice":false,"zero":false},"axis":null},"y":{"datum":0.935,"type":"quantitative","scale":{"domain":[0.31,0.935],"nice":false,"zero":false},"axis":{"values":[0.5,0.75],"format":".2f"},"title":null},"text":{"field":"label"}}}
]},
{"width":482,"height":93,"layer":[
{"data":{"name":"obs"},"transform":[{"filter":"datum.p==='U3U1'"}],"mark":{"type":"line","color":"#d2d2d2","strokeWidth":5,"interpolate":"monotone","clip":true},"encoding":{"x":{"field":"w","type":"quantitative","scale":{"domain":[2.0514,2.448],"nice":false,"zero":false},"axis":null},"y":{"field":"d","type":"quantitative","scale":{"domain":[0.198,1.062],"nice":false,"zero":false},"axis":{"values":[0.5,1.0],"format":".1f"},"title":null}}},
{"data":{"name":"obs"},"transform":[{"filter":"datum.p==='U3U1'"}],"mark":{"type":"line","color":"#505050","strokeWidth":1.8,"interpolate":"monotone","clip":true},"encoding":{"x":{"field":"w","type":"quantitative","scale":{"domain":[2.0514,2.448],"nice":false,"zero":false},"axis":null},"y":{"field":"d","type":"quantitative","scale":{"domain":[0.198,1.062],"nice":false,"zero":false},"axis":{"values":[0.5,1.0],"format":".1f"},"title":null}}},
{"data":{"name":"obs"},"transform":[{"filter":"datum.p==='U3U1'"}],"mark":{"type":"line","color":"red","opacity":0.35,"strokeWidth":2.2,"interpolate":"monotone","clip":true},"encoding":{"x":{"field":"w","type":"quantitative","scale":{"domain":[2.0514,2.448],"nice":false,"zero":false},"axis":null},"y":{"field":"m","type":"quantitative","scale":{"domain":[0.198,1.062],"nice":false,"zero":false},"axis":{"values":[0.5,1.0],"format":".1f"},"title":null}}},
{"data":{"values":[{"label":"U3U1"}]},"mark":{"type":"text","align":"left","baseline":"top","dx":10,"dy":2,"fontSize":15.5,"color":"#f0dc10"},"encoding":{"x":{"datum":2.0514,"type":"quantitative","scale":{"domain":[2.0514,2.448],"nice":false,"zero":false},"axis":null},"y":{"datum":1.062,"type":"quantitative","scale":{"domain":[0.198,1.062],"nice":false,"zero":false},"axis":{"values":[0.5,1.0],"format":".1f"},"title":null},"text":{"field":"label"}}}
]},
{"width":482,"height":92,"layer":[
{"data":{"name":"obs"},"transform":[{"filter":"datum.p==='U4U1'"}],"mark":{"type":"line","color":"#d2d2d2","strokeWidth":5,"interpolate":"monotone","clip":true},"encoding":{"x":{"field":"w","type":"quantitative","scale":{"domain":[2.0514,2.448],"nice":false,"zero":false},"axis":{"values":[2.1,2.15,2.2,2.25,2.3,2.35,2.4],"format":".2f"},"title":"wavelength (μm)"},"y":{"field":"d","type":"quantitative","scale":{"domain":[0.433,0.986],"nice":false,"zero":false},"axis":{"values":[0.5,0.75],"format":".2f"},"title":null}}},
{"data":{"name":"obs"},"transform":[{"filter":"datum.p==='U4U1'"}],"mark":{"type":"line","color":"#505050","strokeWidth":1.8,"interpolate":"monotone","clip":true},"encoding":{"x":{"field":"w","type":"quantitative","scale":{"domain":[2.0514,2.448],"nice":false,"zero":false},"axis":{"values":[2.1,2.15,2.2,2.25,2.3,2.35,2.4],"format":".2f"},"title":"wavelength (μm)"},"y":{"field":"d","type":"quantitative","scale":{"domain":[0.433,0.986],"nice":false,"zero":false},"axis":{"values":[0.5,0.75],"format":".2f"},"title":null}}},
{"data":{"name":"obs"},"transform":[{"filter":"datum.p==='U4U1'"}],"mark":{"type":"line","color":"red","opacity":0.35,"strokeWidth":2.2,"interpolate":"monotone","clip":true},"encoding":{"x":{"field":"w","type":"quantitative","scale":{"domain":[2.0514,2.448],"nice":false,"zero":false},"axis":{"values":[2.1,2.15,2.2,2.25,2.3,2.35,2.4],"format":".2f"},"title":"wavelength (μm)"},"y":{"field":"m","type":"quantitative","scale":{"domain":[0.433,0.986],"nice":false,"zero":false},"axis":{"values":[0.5,0.75],"format":".2f"},"title":null}}},
{"data":{"values":[{"label":"U4U1"}]},"mark":{"type":"text","align":"left","baseline":"top","dx":10,"dy":2,"fontSize":15.5,"color":"#e81818"},"encoding":{"x":{"datum":2.0514,"type":"quantitative","scale":{"domain":[2.0514,2.448],"nice":false,"zero":false},"axis":{"values":[2.1,2.15,2.2,2.25,2.3,2.35,2.4],"format":".2f"},"title":"wavelength (μm)"},"y":{"datum":0.986,"type":"quantitative","scale":{"domain":[0.433,0.986],"nice":false,"zero":false},"axis":{"values":[0.5,0.75],"format":".2f"},"title":null},"text":{"field":"label"}}}
]}
]}
]
}
